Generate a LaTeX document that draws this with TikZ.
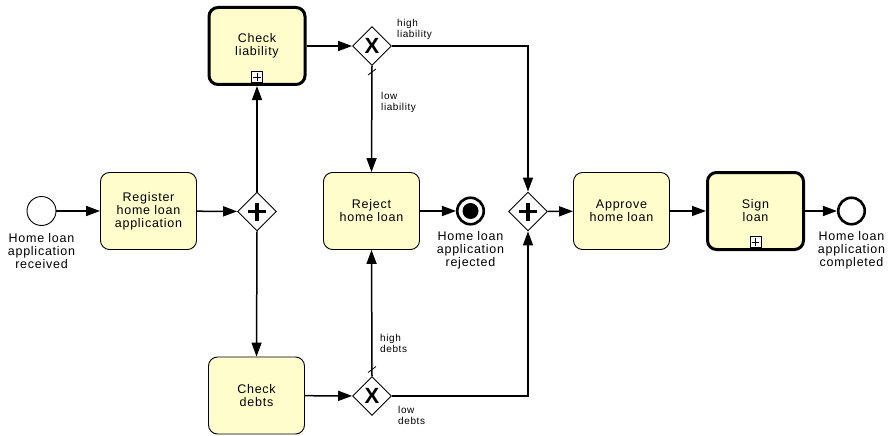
\documentclass[tikz,border=0pt]{standalone}
\usepackage{fontspec}
\newfontfamily\bpmnfont[LetterSpace=6]{Liberation Sans}
\newfontfamily\gwfont{Liberation Sans}
\usetikzlibrary{shapes.geometric, arrows.meta, positioning}
\definecolor{taskyellow}{HTML}{FFFDCC}
\tikzset{
	task/.style={draw, rectangle, line width=0.9pt, rounded corners=9pt, fill=taskyellow,
		minimum width=96pt, minimum height=77pt, inner sep=1pt, align=center,
		font=\bpmnfont\fontsize{12.5}{13}\selectfont}
}
\tikzset{
	subtask/.style={task, line width=3pt},
	submarker/.style={draw, rectangle, line width=0.8pt, fill=white, minimum size=11pt, inner sep=0pt},
	gateway/.style={draw, diamond, line width=0.9pt, fill=white, inner sep=0pt, minimum width=39pt, minimum height=39pt},
	andgw/.style={gateway, path picture={
		\draw[line width=3.5pt] ([xshift=-9pt]path picture bounding box.center) -- ([xshift=9pt]path picture bounding box.center)
			([yshift=-9pt]path picture bounding box.center) -- ([yshift=9pt]path picture bounding box.center);}},
	xorgw/.style={gateway, font=\gwfont\bfseries\fontsize{22}{22}\selectfont},
	startevent/.style={draw, circle, line width=0.9pt, inner sep=0pt, minimum size=29pt},
	endevent/.style={draw, circle, line width=2.6pt, inner sep=0pt, minimum size=26.5pt},
	flow/.style={line width=1.5pt, -{Triangle[length=14pt, width=10pt]}},
	evtext/.style={align=center, inner sep=0pt, font=\bpmnfont\fontsize{12.5}{13}\selectfont},
	condtext/.style={align=left, inner sep=0pt, anchor=north west, font=\bpmnfont\fontsize{10}{11}\selectfont}
}

\begin{document}
\begin{tikzpicture}[x=1pt, y=-1pt]
	\useasboundingbox (0,0) rectangle (892,436);

	% events
	\node[startevent] (start) at (41.5,211) {};
	\node[evtext, below=7pt of start] (startlbl) {Home loan\\application\\received};

	% tasks
	\node[task] (reg) at (148.5,211) {Register\\home loan\\application};
	\node[subtask] (liab) at (257,46) {Check\\liability};
	\node[task] (debts) at (256.5,395.5) {Check\\debts};
	\node[task] (rej) at (371.5,211) {Reject\\home loan};
	\node[task] (appr) at (621.5,211) {Approve\\home loan};
	\node[subtask] (sign) at (755.5,211) {Sign\\loan};

	% sub-process markers
	\foreach \t in {liab, sign} {
		\node[submarker, above=3pt of \t.south] (\t mk) {};
		\draw[line width=0.8pt, shorten <=2pt, shorten >=2pt] (\t mk.north) -- (\t mk.south);
		\draw[line width=0.8pt, shorten <=2pt, shorten >=2pt] (\t mk.west) -- (\t mk.east);
	}

	% gateways
	\node[andgw] (split) at (257,211.5) {};
	\node[xorgw] (xliab) at (372,46) {X};
	\node[xorgw] (xdebts) at (372,396) {X};
	\node[andgw] (join) at (528,211.5) {};

	\node[endevent] (rejected) at (470.5,211) {};
	\fill (rejected) circle (8pt);
	\node[evtext, below=6pt of rejected] (rejlbl) {Home loan\\application\\rejected};
	\node[endevent] (done) at (851.5,211) {};
	\node[evtext, below=6pt of done] (donelbl) {Home loan\\application\\completed};

	% flows
	\draw[flow] (start) -- (reg);
	\draw[flow] (reg) -- (split);
	\draw[flow] (split.north) -- (liab.south);
	\draw[flow] (split.south) -- (debts.north);
	\draw[flow] (liab) -- (xliab);
	\draw[flow] (xliab.east) -| (join.north);
	\draw[flow] (xliab.south) -- (rej.north);
	\draw[flow] (debts) -- (xdebts);
	\draw[flow] (xdebts.north) -- (rej.south);
	\draw[flow] (xdebts.east) -| (join.south);
	\draw[flow] (rej) -- (rejected);
	\draw[flow] (join) -- (appr);
	\draw[flow] (appr) -- (sign);
	\draw[flow] (sign) -- (done);

	% default flow marks
	\draw[line width=0.8pt] ([shift={(-4pt,-9pt)}]xliab.south) -- ([shift={(4pt,-3pt)}]xliab.south);
	\draw[line width=0.8pt] ([shift={(-4pt,3.5pt)}]xdebts.north) -- ([shift={(4pt,9.5pt)}]xdebts.north);

	% conditions
	\node[condtext] (hiliab) at (397,19.5) {high\\liability};
	\node[condtext] (loliab) at (381,92.5) {low\\liability};
	\node[condtext] (hidebts) at (380,334.5) {high\\debts};
	\node[condtext] (lodebts) at (398,406.5) {low\\debts};
\end{tikzpicture}
\end{document}
